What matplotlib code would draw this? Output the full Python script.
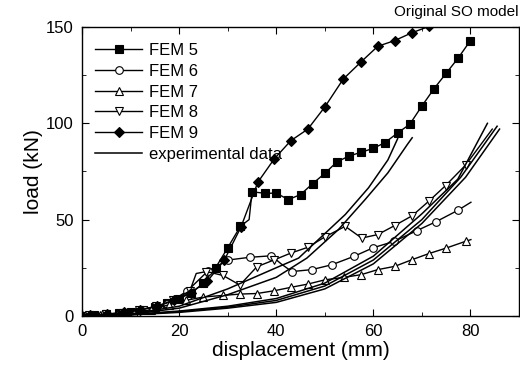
import numpy as np
import matplotlib
matplotlib.use("Agg")
import matplotlib.pyplot as plt
from matplotlib.ticker import MultipleLocator

plt.rcParams['font.family'] = ['Liberation Sans', 'DejaVu Sans']

# === Werte (mm, kN) ===
# Punkte ohne Marker (Zwischenpunkte / Kurvenende) stehen in *_nomark
fem5_x = [0, 2.5, 5, 7.5, 10, 12.5, 15, 17.5, 20, 22.5, 25, 27.5, 30, 32.6, 34.4, 35,
          37.6, 40, 42.5, 45, 47.5, 50, 52.5, 55, 57.5, 60, 62.4, 65, 67.5, 70, 72.5, 75, 77.5, 80]
fem5_y = [0, 0.3, 0.8, 1.3, 2, 3, 4.5, 6.5, 9, 12, 17, 25, 35.4, 46.5, 50, 64.4,
          63.7, 63.7, 60.4, 63, 68.7, 74, 80, 83, 85, 87, 90, 95, 99.5, 109, 118, 126, 134, 143]
fem5_nomark = [14]

fem6_x = [0, 4.3, 8.7, 13, 17.4, 21.7, 26, 30.1, 34.5, 39, 41, 43.2, 47.3, 51.4, 56, 60,
          64.3, 69, 73, 77.4, 80.1]
fem6_y = [0, 0.4, 1.2, 2.8, 6, 13, 23.5, 29, 30.4, 31.2, 27, 23, 24, 26.5, 30.9, 35.4,
          38.7, 44.3, 49, 54.8, 59]
fem6_nomark = [10, 20]

fem7_x = [0, 3.6, 7.1, 10.7, 14.2, 17.8, 21.3, 25, 29, 32.5, 36, 39.5, 43, 46.5, 50,
          54, 57.5, 60.9, 64.4, 68, 71.4, 75, 79, 80.1]
fem7_y = [0, 0.3, 0.8, 1.6, 3.2, 5.7, 8, 9.8, 10.6, 11.3, 11.6, 13, 14.8, 16.5, 18.7,
          20, 21.4, 24, 25.7, 29.2, 32.3, 35.2, 38.7, 39.6]
fem7_nomark = [23]

fem8_x = [0, 1.5, 5, 8.4, 11.8, 15.3, 18.7, 22.2, 23.5, 25.6, 29, 32.5, 36, 39.5, 43,
          46.5, 50, 54.2, 57.6, 60.9, 64.4, 68, 71.4, 74.9, 79, 84.5]
fem8_y = [0, 0.2, 0.8, 1.6, 3, 5, 8, 13, 22, 23, 21, 16, 25.5, 29, 32.6,
          35.6, 41, 46.5, 40.4, 42.2, 46.9, 52, 59.5, 67.7, 78.3, 97]
fem8_nomark = [8, 25]

fem9_x = [0, 1.7, 5.2, 8.6, 12, 15.5, 19, 22.4, 25.8, 29.3, 32.7, 36.2, 39.6, 43, 46.5,
          50, 53.8, 57.5, 60.9, 64.4, 67.9, 71.4, 74]
fem9_y = [0, 0.4, 1, 1.8, 3, 5, 8, 12, 18, 29, 46, 69.4, 81.6, 91, 97,
          108.5, 123, 132, 140, 143, 147, 150.3, 153]
fem9_nomark = [22]

# Versuchsdaten (mehrere Kurven)
exp_x = [
    [0, 10, 20, 30, 40, 44.6, 49.4, 54.2, 59, 63, 65],
    [0, 10, 20, 30, 40, 46.3, 52.8, 58.3, 63, 67, 68],
    [0, 10, 20, 30, 40, 50, 60, 70, 77.4, 83.5],
    [0, 10, 20, 30, 40, 50, 60, 70, 78, 85.5],
    [0, 10, 20, 30, 40, 50, 60, 70, 79, 86],
]
exp_y = [
    [0, 1, 5, 14, 25, 30, 41.3, 52.6, 66.5, 81, 92],
    [0, 0.8, 4, 11, 20, 30, 44.8, 60.4, 74.3, 89, 92.5],
    [0, 0.7, 2.5, 5, 9, 17, 31, 53, 71, 100],
    [0, 0.6, 2.2, 4.5, 8, 15.5, 29, 50, 72, 98.5],
    [0, 0.5, 1.8, 4, 7, 14, 27, 48, 72, 97],
]


def marked(xs, skip):
    return [i for i in range(len(xs)) if i not in skip]


fig = plt.figure(figsize=(5.2, 3.76), dpi=100)
ax = fig.add_axes([0.158, 0.16, 0.84, 0.768])

mk = dict(color='black', lw=1.0, markersize=5.5, markeredgewidth=0.8)
ax.plot(fem5_x, fem5_y, marker='s', markerfacecolor='black', label='FEM 5',
        markevery=marked(fem5_x, fem5_nomark), **mk)
ax.plot(fem6_x, fem6_y, marker='o', markerfacecolor='white', label='FEM 6',
        markevery=marked(fem6_x, fem6_nomark), **mk)
ax.plot(fem7_x, fem7_y, marker='^', markerfacecolor='white', label='FEM 7',
        markevery=marked(fem7_x, fem7_nomark), **mk)
ax.plot(fem8_x, fem8_y, marker='v', markerfacecolor='white', label='FEM 8',
        markevery=marked(fem8_x, fem8_nomark), **mk)
ax.plot(fem9_x, fem9_y, marker='D', markerfacecolor='black', label='FEM 9',
        markevery=marked(fem9_x, fem9_nomark),
        color='black', lw=1.0, markersize=4.8, markeredgewidth=0.8)
for i, (xs, ys) in enumerate(zip(exp_x, exp_y)):
    ax.plot(xs, ys, color='black', lw=1.1,
            label='experimental data' if i == 0 else None)

ax.set_xlim(0, 90)
ax.set_ylim(0, 150)
ax.xaxis.set_major_locator(MultipleLocator(20))
ax.xaxis.set_minor_locator(MultipleLocator(10))
ax.yaxis.set_major_locator(MultipleLocator(50))
ax.yaxis.set_minor_locator(MultipleLocator(25))
ax.tick_params(which='both', direction='in', top=True, right=True, labelsize=12, pad=6)
ax.tick_params(which='major', length=5)
ax.tick_params(which='minor', length=3)
for s in ax.spines.values():
    s.set_linewidth(1.0)

ax.set_xlabel('displacement (mm)', fontsize=15, labelpad=1)
ax.set_ylabel('load (kN)', fontsize=15, labelpad=2)

ax.legend(loc='upper left', frameon=False, fontsize=12, handlelength=2.8,
          handletextpad=0.42, labelspacing=0.34, borderaxespad=0.4,
          bbox_to_anchor=(0.0, 0.99))

fig.text(0.997, 0.969, 'Original SO model', ha='right', va='center', fontsize=11)

fig.savefig('out.png', dpi=100)
